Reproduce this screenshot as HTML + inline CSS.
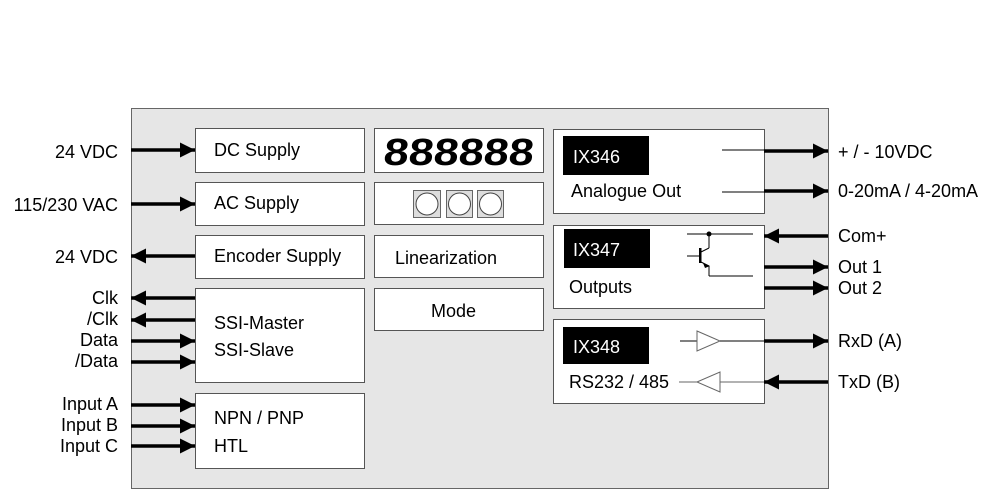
<!DOCTYPE html>
<html><head><meta charset="utf-8"><style>
body{margin:0;background:#fff}
text{font-family:"Liberation Sans",sans-serif;font-size:18px;fill:#000}
</style></head><body>
<svg width="1000" height="490" viewBox="0 0 1000 490" xmlns="http://www.w3.org/2000/svg">
<defs>
<marker id="a" markerWidth="16" markerHeight="16" refX="15" refY="7.5" orient="auto" markerUnits="userSpaceOnUse">
<path d="M0,0 L15,7.5 L0,15 Z" fill="#000"/></marker>
</defs>
<rect x="131.5" y="108.5" width="697" height="380" fill="#e6e6e6" stroke="#666" stroke-width="1"/>
<g fill="#fff" stroke="#555" stroke-width="1">
<rect x="195.5" y="128.5" width="169" height="44"/>
<rect x="195.5" y="182.5" width="169" height="43"/>
<rect x="195.5" y="235.5" width="169" height="43"/>
<rect x="195.5" y="288.5" width="169" height="94"/>
<rect x="195.5" y="393.5" width="169" height="75"/>
<rect x="374.5" y="128.5" width="169" height="44"/>
<rect x="374.5" y="182.5" width="169" height="42"/>
<rect x="374.5" y="235.5" width="169" height="42"/>
<rect x="374.5" y="288.5" width="169" height="42"/>
<rect x="553.5" y="129.5" width="211" height="84"/>
<rect x="553.5" y="225.5" width="211" height="83"/>
<rect x="553.5" y="319.5" width="211" height="84"/>
</g>
<g fill="#000">
<rect x="563" y="136" width="86" height="39"/>
<rect x="564" y="229" width="86" height="39"/>
<rect x="563" y="327" width="86" height="37"/>
</g>
<g stroke="#000" stroke-width="3.5" fill="none">
<line x1="131" y1="150" x2="195" y2="150" marker-end="url(#a)"/>
<line x1="131" y1="204" x2="195" y2="204" marker-end="url(#a)"/>
<line x1="195" y1="256" x2="131" y2="256" marker-end="url(#a)"/>
<line x1="195" y1="298" x2="131" y2="298" marker-end="url(#a)"/>
<line x1="195" y1="320" x2="131" y2="320" marker-end="url(#a)"/>
<line x1="131" y1="341" x2="195" y2="341" marker-end="url(#a)"/>
<line x1="131" y1="362" x2="195" y2="362" marker-end="url(#a)"/>
<line x1="131" y1="405" x2="195" y2="405" marker-end="url(#a)"/>
<line x1="131" y1="426" x2="195" y2="426" marker-end="url(#a)"/>
<line x1="131" y1="446" x2="195" y2="446" marker-end="url(#a)"/>
<line x1="764" y1="151" x2="828" y2="151" marker-end="url(#a)"/>
<line x1="764" y1="191" x2="828" y2="191" marker-end="url(#a)"/>
<line x1="828" y1="236" x2="764" y2="236" marker-end="url(#a)"/>
<line x1="764" y1="267" x2="828" y2="267" marker-end="url(#a)"/>
<line x1="764" y1="288" x2="828" y2="288" marker-end="url(#a)"/>
<line x1="764" y1="341" x2="828" y2="341" marker-end="url(#a)"/>
<line x1="828" y1="382" x2="764" y2="382" marker-end="url(#a)"/>
</g>
<g stroke="#000" stroke-width="1" fill="none">
<line x1="722" y1="150" x2="764" y2="150"/>
<line x1="722" y1="192" x2="764" y2="192"/>
<line x1="687" y1="234" x2="753" y2="234"/>
<line x1="709" y1="234" x2="709" y2="248"/>
<line x1="709" y1="248" x2="701" y2="252"/>
<line x1="687" y1="256" x2="699" y2="256"/>
<line x1="701" y1="262" x2="709" y2="266"/>
<line x1="709" y1="266" x2="709" y2="276"/>
<line x1="709" y1="276" x2="753" y2="276"/>
<line x1="680" y1="341" x2="697" y2="341"/>
<path d="M697,331 L720,341 L697,351 Z" fill="#fff" stroke="#666"/>
<line x1="720" y1="341" x2="764" y2="341"/>
<line x1="679" y1="382" x2="697" y2="382" stroke="#666"/>
<path d="M697,382 L720,372 L720,392 Z" fill="#fff" stroke="#666"/>
<line x1="720" y1="382" x2="764" y2="382" stroke="#666"/>
</g>
<rect x="699" y="248" width="2.5" height="15" fill="#000"/>
<path d="M703,263 L710,266 L705,268 Z" fill="#000"/>
<circle cx="709" cy="234" r="2.5" fill="#000"/>
<g stroke="#666" fill="#ddd">
<rect x="413.5" y="190.5" width="27" height="27"/>
<rect x="446.5" y="190.5" width="26" height="27"/>
<rect x="477.5" y="190.5" width="26" height="27"/>
</g>
<g stroke="#444" fill="#fff">
<circle cx="427" cy="204" r="11"/>
<circle cx="459.5" cy="204" r="11"/>
<circle cx="490.5" cy="204" r="11"/>
</g>
<text x="383" y="165" transform="skewX(-6) translate(17,0)" style="font-size:38px;font-weight:bold" textLength="150" lengthAdjust="spacingAndGlyphs">888888</text>
<text x="214" y="156">DC Supply</text>
<text x="214" y="209">AC Supply</text>
<text x="214" y="262">Encoder Supply</text>
<text x="214" y="329">SSI-Master</text>
<text x="214" y="356">SSI-Slave</text>
<text x="214" y="424">NPN / PNP</text>
<text x="214" y="452">HTL</text>
<text x="395" y="264">Linearization</text>
<text x="431" y="317">Mode</text>
<text x="573" y="163" style="fill:#fff">IX346</text>
<text x="571" y="197">Analogue Out</text>
<text x="573" y="256" style="fill:#fff">IX347</text>
<text x="569" y="293">Outputs</text>
<text x="573" y="353" style="fill:#fff">IX348</text>
<text x="569" y="388">RS232 / 485</text>
<g text-anchor="end">
<text x="118" y="158">24 VDC</text>
<text x="118" y="211">115/230 VAC</text>
<text x="118" y="263">24 VDC</text>
<text x="118" y="304">Clk</text>
<text x="118" y="325">/Clk</text>
<text x="118" y="346">Data</text>
<text x="118" y="367">/Data</text>
<text x="118" y="410">Input A</text>
<text x="118" y="431">Input B</text>
<text x="118" y="452">Input C</text>
</g>
<text x="838" y="158">+ / - 10VDC</text>
<text x="838" y="197">0-20mA / 4-20mA</text>
<text x="838" y="242">Com+</text>
<text x="838" y="273">Out 1</text>
<text x="838" y="294">Out 2</text>
<text x="838" y="347">RxD (A)</text>
<text x="838" y="388">TxD (B)</text>
</svg>
</body></html>
